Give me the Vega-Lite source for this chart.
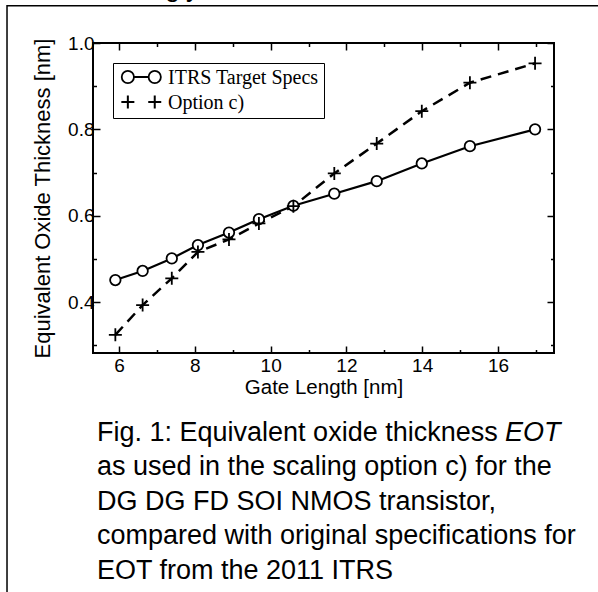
{
  "$schema": "https://vega.github.io/schema/vega-lite/v6.json",
  "autosize": {"type": "none"},
  "width": 461,
  "height": 310,
  "padding": {"left": 93, "top": 43, "right": 44, "bottom": 239},
  "background": "white",
  "config": {
    "view": {"stroke": "black", "strokeWidth": 2},
    "axis": {"grid": false, "domain": false, "tickColor": "black", "tickWidth": 1.5, "labelColor": "black", "titleColor": "black", "labelFont": "Liberation Sans", "titleFont": "Liberation Sans", "labelFontSize": 19, "titleFontSize": 20.5, "titleFontWeight": "normal"}
  },
  "data": {
    "values": [
      {"series": "ITRS Target Specs", "length": 5.9, "eot": 0.451},
      {"series": "ITRS Target Specs", "length": 6.62, "eot": 0.472},
      {"series": "ITRS Target Specs", "length": 7.39, "eot": 0.501},
      {"series": "ITRS Target Specs", "length": 8.08, "eot": 0.532},
      {"series": "ITRS Target Specs", "length": 8.9, "eot": 0.561},
      {"series": "ITRS Target Specs", "length": 9.69, "eot": 0.592},
      {"series": "ITRS Target Specs", "length": 10.6, "eot": 0.623},
      {"series": "ITRS Target Specs", "length": 11.68, "eot": 0.651},
      {"series": "ITRS Target Specs", "length": 12.8, "eot": 0.68},
      {"series": "ITRS Target Specs", "length": 13.99, "eot": 0.721},
      {"series": "ITRS Target Specs", "length": 15.26, "eot": 0.761},
      {"series": "ITRS Target Specs", "length": 16.98, "eot": 0.8},
      {"series": "Option c)", "length": 5.9, "eot": 0.324},
      {"series": "Option c)", "length": 6.62, "eot": 0.393},
      {"series": "Option c)", "length": 7.39, "eot": 0.455},
      {"series": "Option c)", "length": 8.08, "eot": 0.516},
      {"series": "Option c)", "length": 8.9, "eot": 0.545},
      {"series": "Option c)", "length": 9.69, "eot": 0.582},
      {"series": "Option c)", "length": 10.6, "eot": 0.622},
      {"series": "Option c)", "length": 11.68, "eot": 0.698},
      {"series": "Option c)", "length": 12.8, "eot": 0.767},
      {"series": "Option c)", "length": 13.99, "eot": 0.842},
      {"series": "Option c)", "length": 15.26, "eot": 0.908},
      {"series": "Option c)", "length": 16.98, "eot": 0.953}
    ]
  },
  "resolve": {"axis": {"x": "independent", "y": "independent"}},
  "layer": [
    {
      "data": {"values": [{}]},
      "mark": {"type": "rect", "fillOpacity": 0, "stroke": "black", "strokeWidth": 1.5},
      "encoding": {
        "x": {"datum": 3.04, "type": "quantitative", "scale": {"domain": [5.31, 17.48], "nice": false, "zero": false}, "axis": null},
        "x2": {"datum": 30},
        "y": {"datum": 1.086, "type": "quantitative", "scale": {"domain": [0.282, 1.0], "nice": false, "zero": false}, "axis": null},
        "y2": {"datum": -2}
      }
    },
    {
      "data": {"values": [{}]},
      "mark": {"type": "text", "align": "left", "baseline": "alphabetic", "font": "Liberation Sans", "fontSize": 27, "color": "black"},
      "encoding": {
        "x": {"datum": 5.6268, "type": "quantitative", "scale": {"domain": [5.31, 17.48], "nice": false, "zero": false}, "axis": null},
        "y": {"datum": 1.1089, "type": "quantitative", "scale": {"domain": [0.282, 1.0], "nice": false, "zero": false}, "axis": null},
        "text": {"value": "strongly"}
      }
    },
    {
      "data": {"values": [{}]},
      "mark": {"type": "text", "align": "left", "baseline": "alphabetic", "font": "Liberation Sans", "fontSize": 27, "color": "black"},
      "encoding": {
        "x": {"datum": 8.808, "type": "quantitative", "scale": {"domain": [5.31, 17.48], "nice": false, "zero": false}, "axis": null},
        "y": {"datum": 1.1089, "type": "quantitative", "scale": {"domain": [0.282, 1.0], "nice": false, "zero": false}, "axis": null},
        "text": {"value": "reduced"}
      }
    },
    {
      "data": {"values": [{}]},
      "mark": {"type": "text", "align": "left", "baseline": "alphabetic", "font": "Liberation Sans", "fontSize": 27, "lineHeight": 34.5, "color": "black"},
      "encoding": {
        "x": {"datum": 5.4156, "type": "quantitative", "scale": {"domain": [5.31, 17.48], "nice": false, "zero": false}, "axis": null},
        "y": {"datum": 0.0782, "type": "quantitative", "scale": {"domain": [0.282, 1.0], "nice": false, "zero": false}, "axis": null},
        "text": {"value": ["Fig. 1: Equivalent oxide thickness", "as used in the scaling option c) for the", "DG DG FD SOI NMOS transistor,", "compared with original specifications for", "EOT from the 2011 ITRS"]}
      }
    },
    {
      "data": {"values": [{}]},
      "mark": {"type": "text", "align": "left", "baseline": "alphabetic", "font": "Liberation Sans", "fontSize": 27, "fontStyle": "italic", "color": "black"},
      "encoding": {
        "x": {"datum": 16.187, "type": "quantitative", "scale": {"domain": [5.31, 17.48], "nice": false, "zero": false}, "axis": null},
        "y": {"datum": 0.0782, "type": "quantitative", "scale": {"domain": [0.282, 1.0], "nice": false, "zero": false}, "axis": null},
        "text": {"value": "EOT"}
      }
    },
    {
      "data": {"values": [{}]},
      "mark": {"type": "rule", "color": "black", "strokeWidth": 2},
      "encoding": {
        "x": {"datum": 6.23, "type": "quantitative", "scale": {"domain": [5.31, 17.48], "nice": false, "zero": false}, "axis": null},
        "x2": {"datum": 6.94},
        "y": {"datum": 0.9213, "type": "quantitative", "scale": {"domain": [0.282, 1.0], "nice": false, "zero": false}, "axis": null}
      }
    },
    {
      "data": {"values": [{}]},
      "mark": {"type": "point", "shape": "circle", "filled": true, "fill": "white", "stroke": "black", "strokeWidth": 1.8, "size": 150, "opacity": 1},
      "encoding": {
        "x": {"datum": 6.23, "type": "quantitative", "scale": {"domain": [5.31, 17.48], "nice": false, "zero": false}, "axis": null},
        "y": {"datum": 0.9213, "type": "quantitative", "scale": {"domain": [0.282, 1.0], "nice": false, "zero": false}, "axis": null}
      }
    },
    {
      "data": {"values": [{}]},
      "mark": {"type": "point", "shape": "circle", "filled": true, "fill": "white", "stroke": "black", "strokeWidth": 1.8, "size": 150, "opacity": 1},
      "encoding": {
        "x": {"datum": 6.94, "type": "quantitative", "scale": {"domain": [5.31, 17.48], "nice": false, "zero": false}, "axis": null},
        "y": {"datum": 0.9213, "type": "quantitative", "scale": {"domain": [0.282, 1.0], "nice": false, "zero": false}, "axis": null}
      }
    },
    {
      "data": {"values": [{}]},
      "mark": {"type": "point", "shape": "M-1,0L1,0M0,-1L0,1", "stroke": "black", "strokeWidth": 2, "size": 169, "opacity": 1},
      "encoding": {
        "x": {"datum": 6.23, "type": "quantitative", "scale": {"domain": [5.31, 17.48], "nice": false, "zero": false}, "axis": null},
        "y": {"datum": 0.8633, "type": "quantitative", "scale": {"domain": [0.282, 1.0], "nice": false, "zero": false}, "axis": null}
      }
    },
    {
      "data": {"values": [{}]},
      "mark": {"type": "point", "shape": "M-1,0L1,0M0,-1L0,1", "stroke": "black", "strokeWidth": 2, "size": 169, "opacity": 1},
      "encoding": {
        "x": {"datum": 6.94, "type": "quantitative", "scale": {"domain": [5.31, 17.48], "nice": false, "zero": false}, "axis": null},
        "y": {"datum": 0.8633, "type": "quantitative", "scale": {"domain": [0.282, 1.0], "nice": false, "zero": false}, "axis": null}
      }
    },
    {
      "transform": [{"filter": "datum.series === 'Option c)'"}],
      "mark": {"type": "line", "color": "black", "strokeWidth": 2.5, "strokeDash": [11, 7]},
      "encoding": {
        "x": {"field": "length", "type": "quantitative", "scale": {"domain": [5.31, 17.48], "nice": false, "zero": false}, "axis": null},
        "y": {"field": "eot", "type": "quantitative", "scale": {"domain": [0.282, 1.0], "nice": false, "zero": false}, "axis": null}
      }
    },
    {
      "transform": [{"filter": "datum.series === 'ITRS Target Specs'"}],
      "mark": {"type": "line", "color": "black", "strokeWidth": 2.2},
      "encoding": {
        "x": {"field": "length", "type": "quantitative", "scale": {"domain": [5.31, 17.48], "nice": false, "zero": false},
          "axis": {"orient": "bottom", "values": [6, 7, 8, 9, 10, 11, 12, 13, 14, 15, 16, 17], "labelExpr": "datum.value % 2 === 0 ? datum.label : ''", "tickSize": {"condition": {"test": "datum.value % 2 === 0", "value": -7}, "value": -3.5}, "labelPadding": 10, "title": "Gate Length [nm]", "titlePadding": 2}},
        "y": {"field": "eot", "type": "quantitative", "scale": {"domain": [0.282, 1.0], "nice": false, "zero": false},
          "axis": {"orient": "left", "values": [0.3, 0.4, 0.5, 0.6, 0.7, 0.8, 0.9, 1.0], "labelExpr": "round(datum.value * 10) % 2 === 0 ? format(datum.value, '.1f') : ''", "tickSize": {"condition": {"test": "round(datum.value * 10) % 2 === 0", "value": -7}, "value": -3.5}, "labelPadding": 6, "title": "Equivalent Oxide Thickness [nm]", "titleFontSize": 22, "titlePadding": 13}}
      }
    },
    {
      "mark": {"type": "point", "filled": true, "fill": "white", "stroke": "black", "strokeWidth": 1.8, "opacity": 1},
      "encoding": {
        "x": {"field": "length", "type": "quantitative", "scale": {"domain": [5.31, 17.48], "nice": false, "zero": false},
          "axis": {"orient": "top", "values": [6, 7, 8, 9, 10, 11, 12, 13, 14, 15, 16, 17], "labels": false, "tickSize": {"condition": {"test": "datum.value % 2 === 0", "value": -7}, "value": -3.5}, "title": null}},
        "y": {"field": "eot", "type": "quantitative", "scale": {"domain": [0.282, 1.0], "nice": false, "zero": false},
          "axis": {"orient": "right", "values": [0.3, 0.4, 0.5, 0.6, 0.7, 0.8, 0.9, 1.0], "labels": false, "tickSize": {"condition": {"test": "round(datum.value * 10) % 2 === 0", "value": -7}, "value": -3.5}, "title": null}},
        "shape": {"field": "series", "type": "nominal",
          "scale": {"domain": ["ITRS Target Specs", "Option c)"], "range": ["circle", "M-1,0L1,0M0,-1L0,1"]},
          "legend": {"title": null, "orient": "none", "legendX": 20, "legendY": 20, "strokeColor": "black", "padding": 5, "symbolOffset": 16, "labelOffset": 14, "rowPadding": 5, "symbolSize": 144, "symbolOpacity": 0, "labelFont": "Liberation Serif", "labelFontSize": 20, "labelColor": "black", "labelLimit": 300}},
        "size": {"condition": {"test": "datum.series === 'Option c)'", "value": 169}, "value": 110}
      }
    }
  ]
}
